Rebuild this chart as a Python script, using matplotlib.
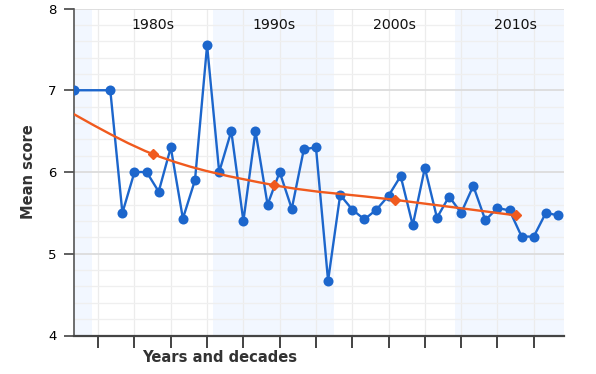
import matplotlib
matplotlib.use("Agg")
import matplotlib.pyplot as plt
from matplotlib.path import Path
from matplotlib.patches import PathPatch
import numpy as np

# Data
years = [1978, 1981, 1982, 1983, 1984, 1985, 1986, 1987, 1988, 1989,
         1990, 1991, 1992, 1993, 1994, 1995, 1996, 1997, 1998, 1999,
         2000, 2001, 2002, 2003, 2004, 2005, 2006, 2007, 2008, 2009,
         2010, 2011, 2012, 2013, 2014, 2015, 2016, 2017, 2018]
scores = [7.0, 7.0, 5.5, 6.0, 6.0, 5.76, 6.3, 5.43, 5.9, 7.55,
          6.0, 6.5, 5.4, 6.5, 5.6, 6.0, 5.55, 6.28, 6.3, 4.67,
          5.72, 5.54, 5.42, 5.54, 5.71, 5.95, 5.35, 6.05, 5.44, 5.7,
          5.5, 5.83, 5.41, 5.56, 5.53, 5.21, 5.21, 5.5, 5.47]

decade_mid = [1974.5, 1984.5, 1994.5, 2004.5, 2014.5]
decade_mean = [7.0, 6.22, 5.84, 5.66, 5.47]
decade_labels = ["1980s", "1990s", "2000s", "2010s"]

blue = "#1c66cc"
orange = "#f05a1e"
band = "#f2f7ff"

fig = plt.figure(figsize=(5.96, 3.74), dpi=100)
ax = fig.add_axes([74 / 596, 1 - 335.5 / 374, 490 / 596, 327 / 374])
ax.set_xlim(1978, 2018.5)
ax.set_ylim(4, 8)

# Decade bands
for start in [1969.5, 1989.5, 2009.5]:
    ax.axvspan(start, start + 10, color=band, zorder=0, lw=0)

# Grid
ax.set_yticks([4, 5, 6, 7, 8])
ax.set_yticks(np.arange(4, 8.01, 0.2), minor=True)
ax.set_xticks(np.arange(1980, 2018, 3))
ax.grid(True, which="major", axis="y", color="#dcdcdc", lw=1.3, zorder=1)
ax.grid(True, which="minor", axis="y", color="#efefef", lw=0.9, zorder=1)
ax.grid(True, which="major", axis="x", color="#ececec", lw=0.9, zorder=1)
ax.tick_params(axis="y", which="minor", length=0)
ax.tick_params(axis="y", which="major", length=7.5, width=1.2, color="#444444",
               labelsize=9.5, pad=5)
ax.tick_params(axis="x", which="major", length=8.5, width=1.2, color="#222222",
               labelbottom=False)

for s in ["top", "right"]:
    ax.spines[s].set_visible(False)
ax.spines["left"].set_color("#555555")
ax.spines["left"].set_linewidth(1.2)
ax.spines["bottom"].set_color("#444444")
ax.spines["bottom"].set_linewidth(1.6)

# Yearly series
ax.plot(years, scores, color=blue, lw=1.7, zorder=4)
dots = ax.scatter(years, scores, s=52, color=blue, zorder=4, linewidths=0)
dots.set_clip_path(ax.patch)

# Smoothed decade trend (Catmull-Rom curve via bezier path)
pts = np.column_stack([decade_mid, decade_mean])
verts = [pts[0]]
codes = [Path.MOVETO]
n = len(pts)
for i in range(n - 1):
    p0 = pts[max(i - 1, 0)]
    p1 = pts[i]
    p2 = pts[i + 1]
    p3 = pts[min(i + 2, n - 1)]
    c1 = p1 + (p2 - p0) / 6
    c2 = p2 - (p3 - p1) / 6
    verts += [c1, c2, p2]
    codes += [Path.CURVE4] * 3
ax.add_patch(PathPatch(Path(verts, codes), fill=False, edgecolor=orange,
                       lw=1.7, zorder=5))
ax.plot(decade_mid[1:], decade_mean[1:], ls="none", marker="D",
        markersize=5, color=orange, zorder=6)

# Decade labels
for mid, lab in zip(decade_mid[1:], decade_labels):
    ax.text(mid, 7.8, lab, ha="center", va="center", fontsize=10.2,
            color="#111111")

ax.set_ylabel("Mean score", fontsize=10.5, fontweight="bold", color="#333333",
              labelpad=9)
fig.text(220 / 596, 1 - 358 / 374, "Years and decades", ha="center",
         va="center", fontsize=10.6, fontweight="bold", color="#333333")

fig.savefig("out.png", dpi=100)
